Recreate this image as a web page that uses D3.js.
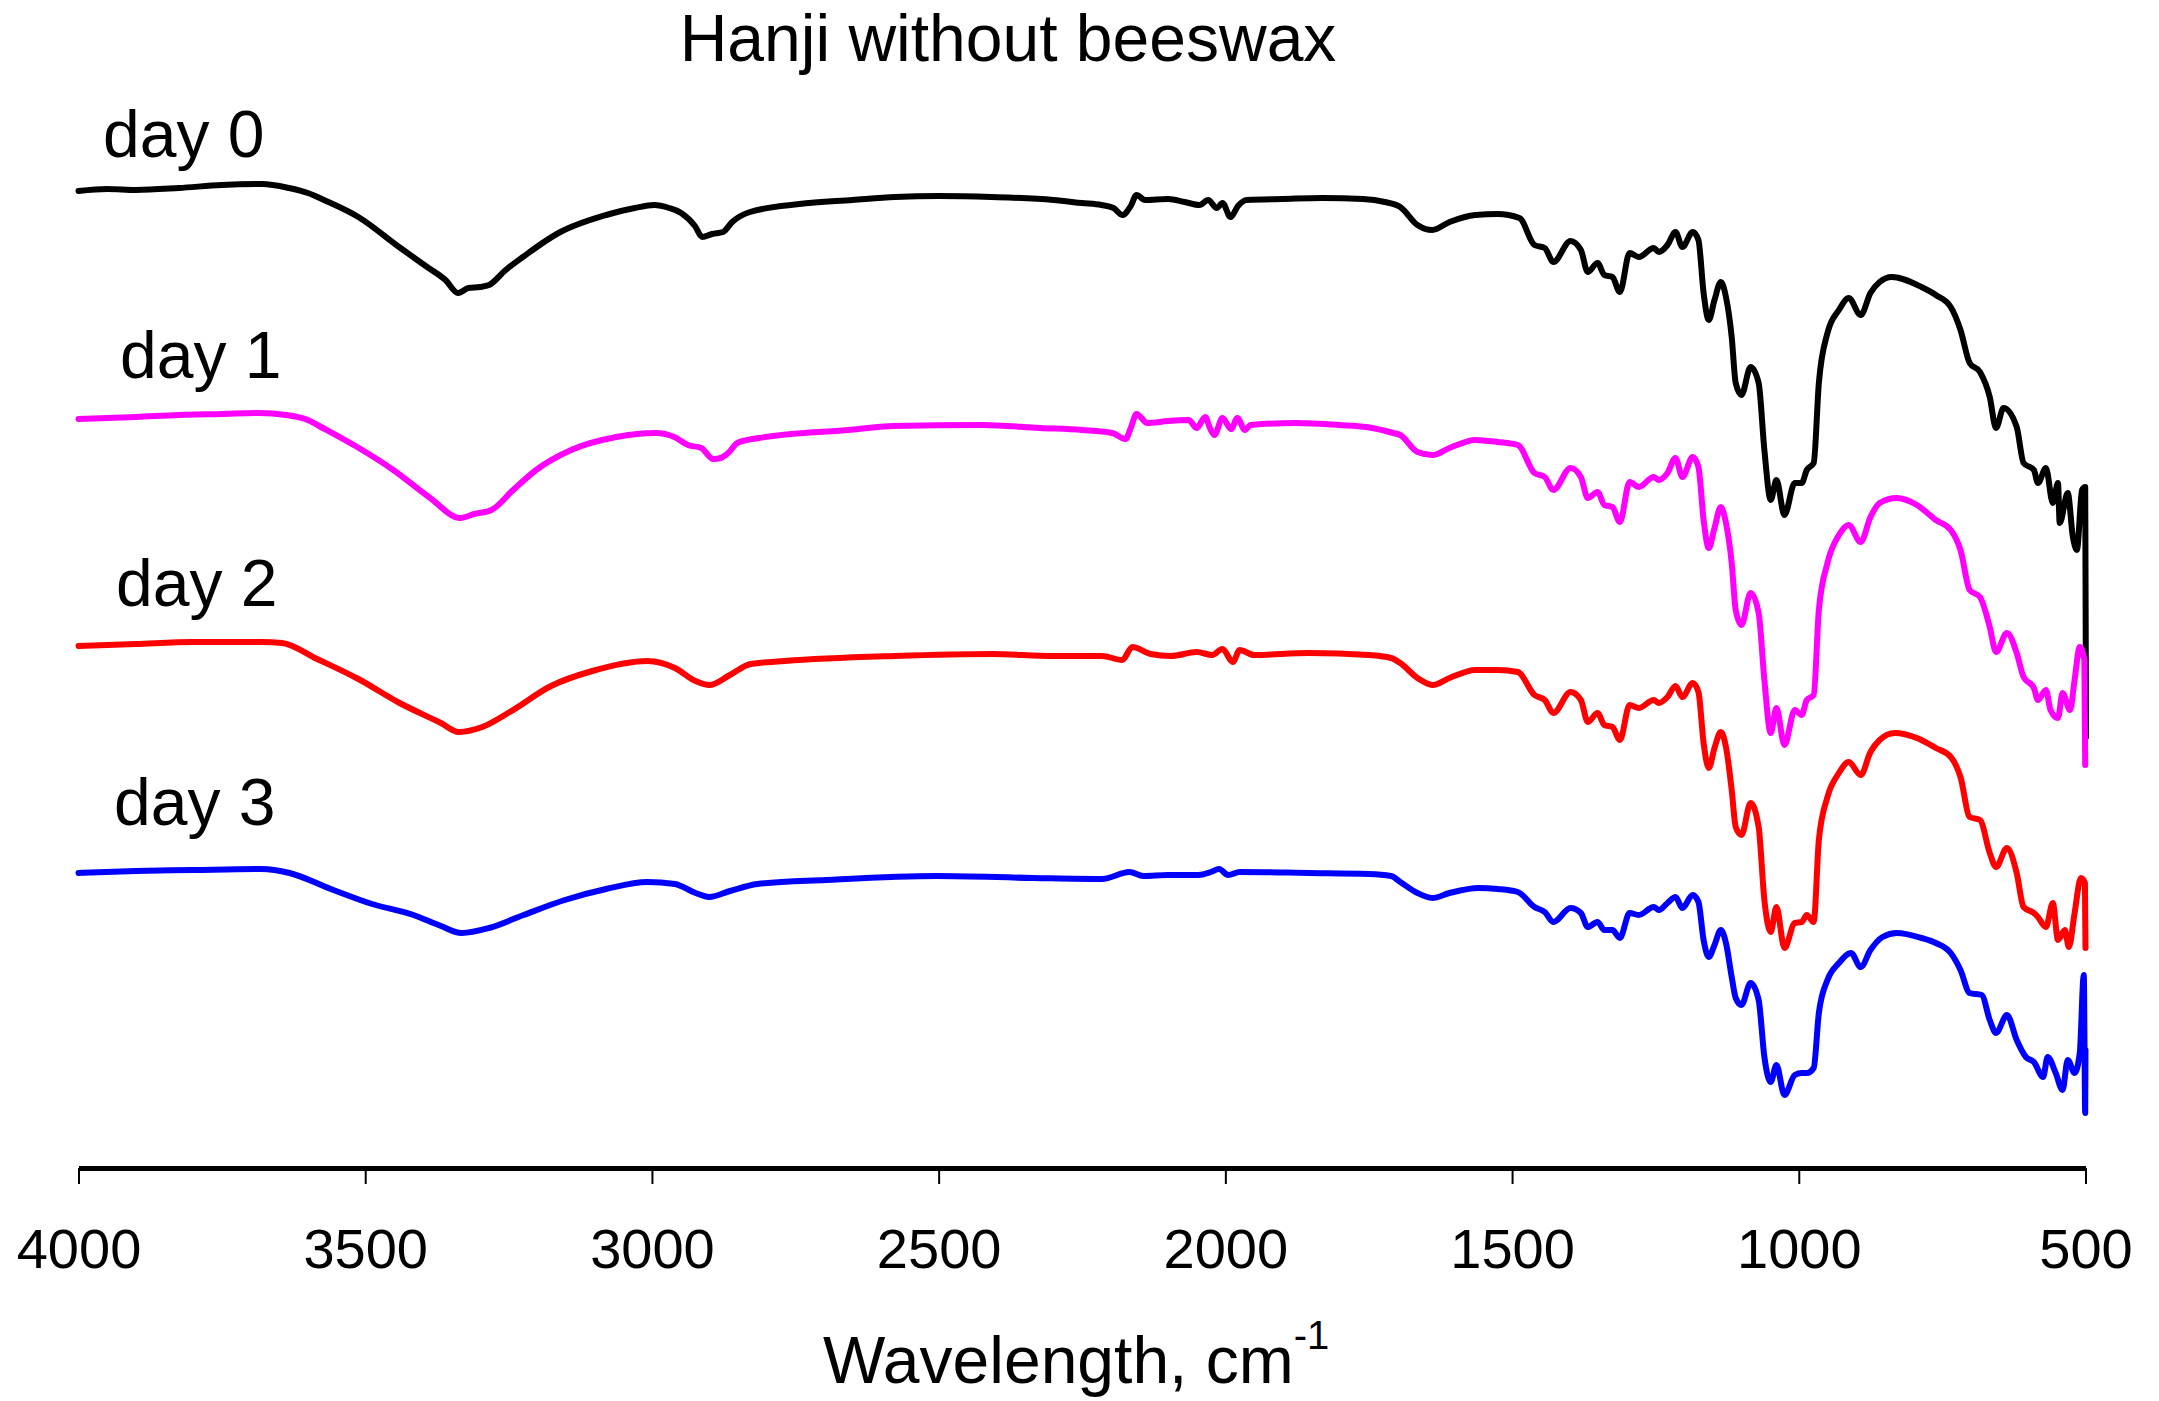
<!DOCTYPE html>
<html>
<head>
<meta charset="utf-8">
<script src="https://cdn.jsdelivr.net/npm/d3@7"></script>
<style>
  html, body { margin: 0; padding: 0; background: #fff; }
  svg { display: block; }
  text { font-family: "Liberation Sans", Arial, Helvetica, sans-serif; fill: #000; }
</style>
</head>
<body>
<svg id="chart" width="2159" height="1401"></svg>
<script>
// ---------------- DATA ----------------
const chartTitle = "Hanji without beeswax";
const xTicks = [4000, 3500, 3000, 2500, 2000, 1500, 1000, 500];
const seriesNames = ["day 0", "day 1", "day 2", "day 3"];
const seriesColors = ["#000000", "#ff00ff", "#ff0000", "#0000ff"];

// [wavenumber (cm-1), offset transmittance (a.u.)]
const day0 = [
  [4000,97.7],[3950,97.9],[3900,97.8],[3825,98.0],[3750,98.3],[3680,98.4],[3633,98.0],[3600,97.5],
  [3572,96.8],[3512,95.1],[3441,92.1],[3392,90.1],[3360,88.8],[3338,87.5],[3320,88.0],[3300,88.1],
  [3284,88.3],[3255,89.8],[3225,91.1],[3163,93.5],[3080,95.3],[3030,96.0],[2996,96.3],[2970,96.0],
  [2949,95.5],[2925,94.2],[2912,93.1],[2895,93.4],[2876,93.6],[2860,94.6],[2829,95.6],[2743,96.4],
  [2650,96.8],[2576,97.1],[2500,97.2],[2408,97.1],[2300,96.8],[2250,96.5],[2216,96.3],[2195,96.0],
  [2180,95.3],[2165,96.2],[2155,97.3],[2140,96.8],[2100,96.9],[2071,96.6],[2045,96.3],[2030,96.8],
  [2015,96.0],[2005,96.5],[1991,95.1],[1978,96.2],[1963,96.8],[1900,96.9],[1831,97.0],[1760,96.9],
  [1722,96.6],[1695,96.1],[1665,94.3],[1639,93.8],[1609,94.6],[1564,95.3],[1525,95.4],[1487,95.0],
  [1461,92.3],[1443,92.0],[1428,90.6],[1398,92.7],[1380,91.8],[1368,89.6],[1351,90.5],[1339,89.3],
  [1325,89.1],[1312,87.6],[1295,91.5],[1279,91.1],[1253,92.0],[1244,91.6],[1229,92.3],[1215,93.6],
  [1203,92.1],[1185,93.6],[1175,92.8],[1166,87.5],[1157,84.8],[1147,86.8],[1136,88.6],[1127,87.1],
  [1117,83.1],[1110,78.5],[1100,77.3],[1084,80.1],[1070,78.5],[1060,71.8],[1049,66.8],[1039,68.8],
  [1025,65.3],[1007,68.5],[995,68.5],[986,69.8],[974,70.5],[965,78.5],[950,83.5],[930,85.8],
  [913,87.0],[892,85.3],[875,87.5],[859,88.6],[838,89.1],[786,88.1],[761,87.3],[735,86.1],
  [718,83.8],[702,80.5],[684,79.6],[667,77.1],[656,74.0],[643,76.0],[620,74.1],[608,70.5],
  [590,69.8],[583,68.5],[569,70.0],[557,66.5],[548,68.5],[545,64.5],[531,67.5],[522,63.1],
  [515,61.8],[506,67.8],[500.5,68.1],[499,43.1]
];

const day1 = [
  [4000,74.9],[3900,75.1],[3825,75.3],[3750,75.4],[3685,75.5],[3638,75.3],[3600,74.8],[3577,74.1],
  [3514,72.1],[3451,69.8],[3389,67.1],[3334,65.0],[3310,65.4],[3280,65.8],[3242,67.8],[3202,69.8],
  [3141,71.8],[3062,73.1],[2993,73.5],[2961,73.1],[2937,72.3],[2914,72.0],[2893,70.9],[2880,71.0],
  [2867,71.5],[2851,72.5],[2813,73.0],[2658,73.8],[2579,74.2],[2424,74.3],[2323,74.0],[2250,73.8],
  [2197,73.5],[2174,72.9],[2165,74.0],[2155,75.4],[2136,74.5],[2100,74.7],[2064,74.8],[2050,74.0],
  [2035,75.1],[2027,74.0],[2019,73.3],[2005,75.0],[1990,73.9],[1979,75.0],[1966,73.8],[1956,74.3],
  [1878,74.5],[1800,74.3],[1754,74.1],[1707,73.5],[1695,73.3],[1665,71.6],[1639,71.3],[1609,72.0],
  [1564,72.8],[1525,72.6],[1490,72.3],[1461,69.5],[1443,69.1],[1428,67.8],[1398,70.0],[1380,69.1],
  [1368,67.0],[1351,67.6],[1339,66.3],[1325,66.1],[1312,64.6],[1295,68.6],[1279,68.1],[1253,69.1],
  [1244,68.8],[1229,69.5],[1215,71.0],[1203,69.1],[1185,71.1],[1175,70.1],[1166,64.8],[1157,62.0],
  [1147,64.0],[1136,66.1],[1127,64.5],[1117,60.5],[1110,55.8],[1100,54.3],[1084,57.5],[1070,55.5],
  [1060,48.8],[1049,43.5],[1039,46.0],[1025,42.3],[1007,45.8],[995,45.3],[986,46.8],[974,47.3],
  [965,55.8],[950,60.5],[930,63.3],[913,64.3],[892,62.6],[875,65.1],[859,66.5],[829,67.0],
  [794,66.3],[761,64.8],[735,63.8],[718,61.8],[702,57.8],[684,57.1],[667,54.1],[656,51.6],
  [637,53.5],[620,51.5],[608,49.1],[590,48.0],[583,46.8],[569,47.8],[561,45.8],[548,45.0],
  [540,47.5],[527,45.8],[519,48.8],[510,52.1],[502,50.8],[500.5,40.3]
];

const day2 = [
  [4000,52.2],[3900,52.4],[3800,52.6],[3681,52.6],[3645,52.5],[3584,50.9],[3512,48.9],[3440,46.5],
  [3368,44.5],[3337,43.6],[3296,44.1],[3248,45.6],[3176,48.2],[3104,49.7],[3008,50.7],[2960,50.0],
  [2924,48.7],[2900,48.3],[2864,49.3],[2828,50.4],[2768,50.7],[2576,51.2],[2407,51.4],[2300,51.2],
  [2215,51.2],[2180,50.8],[2162,52.1],[2130,51.4],[2095,51.2],[2050,51.6],[2023,51.3],[2005,51.9],
  [1987,50.6],[1975,51.8],[1950,51.3],[1855,51.5],[1750,51.3],[1711,51.0],[1695,50.5],[1665,49.0],
  [1639,48.3],[1609,49.0],[1564,49.8],[1525,49.8],[1490,49.6],[1461,47.3],[1443,46.8],[1428,45.5],
  [1398,47.6],[1380,46.8],[1368,44.6],[1351,45.5],[1339,44.3],[1325,44.1],[1312,42.8],[1295,46.3],
  [1279,46.0],[1253,46.8],[1244,46.5],[1229,47.1],[1215,48.2],[1203,47.1],[1185,48.5],[1175,47.6],
  [1166,42.5],[1157,40.0],[1147,42.0],[1136,43.6],[1127,42.1],[1117,37.8],[1110,34.1],[1100,33.3],
  [1084,36.5],[1070,34.1],[1060,26.8],[1049,23.6],[1039,26.1],[1025,22.0],[1007,24.5],[995,24.6],
  [986,25.3],[974,24.6],[965,32.8],[950,37.1],[930,39.5],[913,40.6],[892,39.3],[875,41.6],
  [859,42.8],[833,43.5],[794,43.0],[761,42.0],[735,41.1],[718,39.1],[702,35.1],[684,34.8],
  [667,31.5],[656,30.1],[637,32.0],[620,29.5],[608,26.1],[590,25.5],[583,25.1],[569,24.1],
  [557,26.5],[548,22.8],[536,23.8],[529,22.1],[519,25.5],[508,29.0],[501,28.5],[500,22.0]
];

const day3 = [
  [4000,29.5],[3900,29.7],[3800,29.8],[3681,29.9],[3632,29.5],[3560,27.9],[3488,26.4],[3416,25.3],
  [3368,24.2],[3332,23.5],[3284,24.0],[3224,25.3],[3152,26.8],[3080,27.9],[3008,28.6],[2960,28.4],
  [2924,27.5],[2900,27.1],[2864,27.7],[2816,28.4],[2696,28.8],[2503,29.2],[2335,29.0],[2215,28.9],
  [2167,29.6],[2143,29.2],[2100,29.3],[2047,29.3],[2025,29.6],[2011,29.9],[1995,29.3],[1975,29.6],
  [1855,29.5],[1750,29.4],[1711,29.2],[1695,28.6],[1665,27.5],[1639,27.0],[1609,27.5],[1558,28.0],
  [1525,27.9],[1490,27.6],[1461,26.1],[1443,25.6],[1428,24.6],[1398,26.0],[1380,25.5],[1368,24.1],
  [1351,24.6],[1339,23.8],[1325,23.8],[1312,23.0],[1295,25.5],[1279,25.3],[1253,26.1],[1244,25.8],
  [1229,26.5],[1215,27.1],[1203,26.0],[1185,27.3],[1175,26.6],[1166,22.8],[1157,21.1],[1147,22.3],
  [1136,23.8],[1127,22.5],[1117,19.1],[1110,17.0],[1100,16.3],[1084,18.5],[1070,16.8],[1060,11.1],
  [1049,8.6],[1039,10.3],[1025,7.3],[1007,9.3],[995,9.5],[986,9.5],[974,10.0],[965,15.5],
  [950,18.8],[930,20.5],[909,21.5],[892,20.1],[875,21.8],[854,23.1],[829,23.5],[786,23.0],
  [761,22.5],[735,21.5],[718,19.8],[702,17.5],[681,17.3],[667,14.8],[656,13.5],[637,15.3],
  [620,12.8],[604,11.1],[590,10.6],[574,9.1],[566,11.1],[552,9.5],[540,7.8],[531,10.8],
  [519,9.5],[510,11.5],[503,19.3],[500.5,5.5],[500,11.8]
];

const allSeries = [day0, day1, day2, day3];

// ---------------- LAYOUT ----------------
const svg = d3.select("#chart");

const x = d3.scaleLinear().domain([4000, 500]).range([78.5, 2085.5]);
const y = d3.scaleLinear().domain([0, 110]).range([1168, 68]);

const line = d3.line()
  .x(d => x(d[0]))
  .y(d => y(d[1]))
  .curve(d3.curveMonotoneX);

// curves
svg.append("g").selectAll("path")
  .data(allSeries)
  .join("path")
  .attr("d", d => line(d))
  .attr("fill", "none")
  .attr("stroke", (d, i) => seriesColors[i])
  .attr("stroke-width", 6)
  .attr("stroke-linejoin", "round")
  .attr("stroke-linecap", "round");

// x axis
const xAxis = d3.axisBottom(x)
  .tickValues(xTicks)
  .tickFormat(d3.format("d"))
  .tickSize(16)
  .tickSizeOuter(0)
  .tickPadding(44);

const gx = svg.append("g")
  .attr("transform", `translate(0,${y(0)})`)
  .call(xAxis);
gx.select(".domain").attr("stroke", "#000").attr("stroke-width", 5);
gx.selectAll(".tick line").attr("stroke", "#000").attr("stroke-width", 2);
gx.selectAll(".tick text")
  .attr("font-size", 56)
  .attr("font-family", "'Liberation Sans', Arial, sans-serif")
  .attr("fill", "#000");

// axis title
const xt = svg.append("text")
  .attr("x", 823)
  .attr("y", 1383)
  .attr("font-size", 66);
xt.append("tspan").text("Wavelength, cm");
xt.append("tspan").attr("font-size", 40).attr("dy", -34).text("-1");

// chart title
svg.append("text")
  .attr("x", 1008)
  .attr("y", 61)
  .attr("text-anchor", "middle")
  .attr("font-size", 66)
  .text(chartTitle);

// series labels
const labelPos = [[103, 157], [120, 378], [116, 606], [114, 825]];
svg.append("g").selectAll("text")
  .data(seriesNames)
  .join("text")
  .attr("x", (d, i) => labelPos[i][0])
  .attr("y", (d, i) => labelPos[i][1])
  .attr("font-size", 66)
  .text(d => d);
</script>
</body>
</html>
